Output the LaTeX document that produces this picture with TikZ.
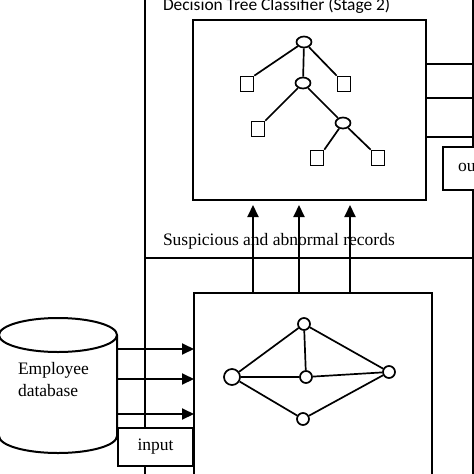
\documentclass[tikz,border=0pt]{standalone}
\usepackage{fontspec}
\setmainfont{Liberation Serif}
\newfontfamily\calib{Carlito}
\usetikzlibrary{arrows.meta,shapes.geometric}
\begin{document}
\begin{tikzpicture}[x=1pt,y=-1pt,line width=2pt,
  box/.style={draw,inner sep=0pt,outer sep=0pt,fill=white},
  arr/.style={-{Triangle[length=12pt,width=11pt]}},
  tnode/.style={draw,ellipse,line width=1.7pt,minimum width=15pt,minimum height=11pt,inner sep=0pt,fill=white},
  leaf/.style={draw,rectangle,line width=1.7pt,minimum width=13pt,minimum height=15pt,inner sep=0pt,fill=white},
  gnode/.style={draw,circle,line width=1.7pt,minimum size=12pt,inner sep=0pt,fill=white},
  tedge/.style={line width=1.7pt},
  lbl/.style={font=\fontsize{17.5}{20}\selectfont,inner sep=0pt}]
\useasboundingbox (0,0) rectangle (474,474);
\clip (0,0) rectangle (474,474);
% outer frame lines
\draw (145,-5) -- (145,480);
\draw (473,-5) -- (473,480);
\draw (145,258) -- (473,258);
% title
\node[anchor=base west,inner sep=0pt,font=\calib\fontsize{17.4}{20}\selectfont] (title) at (162,10.5) {Decision Tree Classifier (Stage 2)};
% tree box
\node[box,anchor=north west,minimum width=233pt,minimum height=180pt] (tb) at (193,20) {};
% tree
\node[tnode] (r) at (304,42) {};
\node[tnode] (m) at (303,83) {};
\node[tnode] (e2) at (343,123) {};
\node[leaf] (l1) at (247,84) {};
\node[leaf] (l2) at (344,84) {};
\node[leaf] (l3) at (258,129) {};
\node[leaf] (l4) at (317,158) {};
\node[leaf] (l5) at (378,158) {};
\draw[tedge] (r) -- (l1.north east);
\draw[tedge] (r) -- (m);
\draw[tedge] (r) -- (l2.north west);
\draw[tedge] (m) -- (l3.north east);
\draw[tedge] (m) -- (e2);
\draw[tedge] (e2) -- (l4.north east);
\draw[tedge] (e2) -- (l5.north west);
% right lines and output box
\coordinate (rt) at (480,0);
\coordinate (ry1) at (0,64);
\coordinate (ry2) at (0,98);
\coordinate (ry3) at (0,137);
\draw (tb.east |- ry1) -- (rt |- ry1);
\draw (tb.east |- ry2) -- (rt |- ry2);
\draw (tb.east |- ry3) -- (rt |- ry3);
\node[box,lbl,anchor=north west,minimum width=75pt,minimum height=43pt] (outp) at (443,147) {output};
% middle label
\node[lbl,anchor=base west] (susp) at (162,245) {Suspicious and abnormal records};
% lower box
\node[box,fill=none,anchor=north west,minimum width=238pt,minimum height=200pt] (lb) at (194,293) {};
\coordinate (ax1) at (253,0);
\coordinate (ax2) at (299,0);
\coordinate (ax3) at (350,0);
\draw[arr,shorten >=5pt] (lb.north -| ax1) -- (tb.south -| ax1);
\draw[arr,shorten >=5pt] (lb.north -| ax2) -- (tb.south -| ax2);
\draw[arr,shorten >=5pt] (lb.north -| ax3) -- (tb.south -| ax3);
% graph
\node[gnode] (gt) at (304,324) {};
\node[gnode,minimum size=16pt] (gl) at (232,377) {};
\node[gnode] (gc) at (306,377) {};
\node[gnode] (gr) at (389,372) {};
\node[gnode] (gb) at (303,419) {};
\draw[tedge] (gl) -- (gt);
\draw[tedge] (gt) -- (gc);
\draw[tedge] (gt) -- (gr);
\draw[tedge] (gl) -- (gc);
\draw[tedge] (gc) -- (gr);
\draw[tedge] (gl) -- (gb);
\draw[tedge] (gb) -- (gr);
% database cylinder
\draw[fill=white] (117,335) -- (117,436) arc[start angle=0,end angle=180,x radius=59,y radius=17] -- (-1,335);
\draw[fill=white] (58,335) ellipse [x radius=59,y radius=17];
\node[inner sep=0pt,minimum width=118pt,minimum height=118pt] (db) at (58,394) {};
\node[lbl,anchor=base west] (dbt1) at (17,374) {Employee};
\node[lbl,anchor=base west] (dbt2) at (17,396) {database};
\coordinate (ly1) at (0,349);
\coordinate (ly2) at (0,379);
\coordinate (ly3) at (0,414);
\draw[arr] (db.east |- ly1) -- (lb.west |- ly1);
\draw[arr] (db.east |- ly2) -- (lb.west |- ly2);
\draw[arr] (db.east |- ly3) -- (lb.west |- ly3);
% input box
\node[box,lbl,minimum width=75pt,minimum height=38pt] (inp) at (155.5,447) {input};
\end{tikzpicture}
\end{document}
